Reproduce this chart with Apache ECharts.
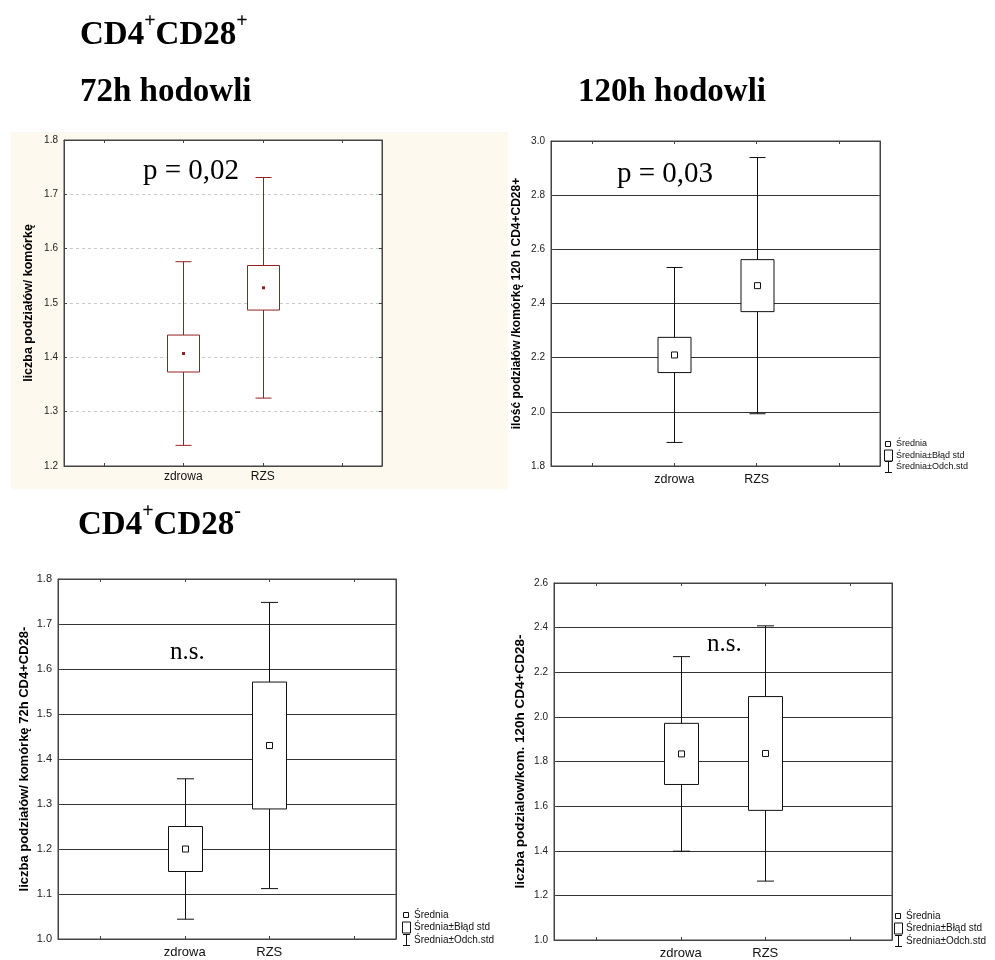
<!DOCTYPE html>
<html>
<head>
<meta charset="utf-8">
<title>CD4+CD28 – liczba podziałów</title>
<script src="https://cdn.jsdelivr.net/npm/echarts@6/dist/echarts.min.js"></script>
<style>
  html, body { margin: 0; padding: 0; background: #fff; }
  #chart { width: 995px; height: 960px; }
</style>
</head>
<body>
<div id="chart"></div>
<script>
// Groups compared in every panel, padded with empty slots on both sides
const groups = ['zdrowa', 'RZS'];
const xSlots = ['', 'zdrowa', 'RZS', ' '];

// CD4+CD28+ , 72 h culture: mean, standard error, standard deviation
const mean72pos = [1.407, 1.528];
const se72pos = [0.034, 0.041];
const sd72pos = [0.169, 0.203];

// CD4+CD28+ , 120 h culture
const mean120pos = [2.210, 2.466];
const se120pos = [0.065, 0.096];
const sd120pos = [0.323, 0.473];

// CD4+CD28- , 72 h culture
const mean72neg = [1.200, 1.430];
const se72neg = [0.050, 0.141];
const sd72neg = [0.156, 0.318];

// CD4+CD28- , 120 h culture
const mean120neg = [1.834, 1.836];
const se120neg = [0.137, 0.255];
const sd120neg = [0.436, 0.572];

// y-axis ranges and tick steps
const yMin = [1.2, 1.8, 1.0, 1.0];
const yMax = [1.8, 3.0, 1.8, 2.6];
const yStep = [0.1, 0.2, 0.1, 0.2];

const yNames = [
  'liczba podziałów/ komórkę',
  'ilość podziałów /komórkę 120 h CD4+CD28+',
  'liczba podziałów/ komórkę 72h CD4+CD28-',
  'liczba podzialow/kom. 120h CD4+CD28-'
];

const legendNames = ['Średnia', 'Średnia±Błąd std', 'Średnia±Odch.std'];

const panelStats = [
  [mean72pos, se72pos, sd72pos],
  [mean120pos, se120pos, sd120pos],
  [mean72neg, se72neg, sd72neg],
  [mean120neg, se120neg, sd120neg]
];

const grids = [
  { left: 64, top: 140, width: 318, height: 326 },
  { left: 551, top: 141, width: 329, height: 325 },
  { left: 58, top: 579, width: 338, height: 360 },
  { left: 554, top: 583, width: 338, height: 357 }
];

const panelStyle = [
  { color: '#962020', split: { color: '#c9c9c9', type: [3, 3], width: 1 }, filledMean: true, labelSize: 10, catSize: 12, nameSize: 12.5, nameGap: 29, catMargin: 5 },
  { color: '#111', split: { color: '#333', type: 'solid', width: 1 }, filledMean: false, labelSize: 10, catSize: 12.5, nameSize: 12, nameGap: 28, catMargin: 7 },
  { color: '#111', split: { color: '#333', type: 'solid', width: 1 }, filledMean: false, labelSize: 11, catSize: 13, nameSize: 13, nameGap: 27, catMargin: 7 },
  { color: '#111', split: { color: '#333', type: 'solid', width: 1 }, filledMean: false, labelSize: 10, catSize: 13, nameSize: 13.5, nameGap: 27, catMargin: 7 }
];

const labelFont = 'Liberation Sans, Arial, sans-serif';
const serifFont = 'Liberation Serif, Times New Roman, serif';

// Box = mean ± SE, whiskers = mean ± SD, small square = mean
function makeRenderer(style) {
  return function (params, api) {
    const xi = api.value(0);
    const m = api.value(1);
    const se = api.value(2);
    const sd = api.value(3);
    const band = api.size([1, 0])[0];
    const bw = Math.round(band * 0.4);
    const cw = Math.round(band * 0.2);
    const cx = Math.round(api.coord([xi, m])[0]) + 0.5;
    const cy = api.coord([xi, m])[1];
    const wTop = api.coord([xi, m + sd])[1];
    const wBot = api.coord([xi, m - sd])[1];
    const bTop = api.coord([xi, m + se])[1];
    const bBot = api.coord([xi, m - se])[1];
    const stroke = { stroke: style.color, lineWidth: 1, fill: null };
    const children = [
      { type: 'line', shape: { x1: cx, y1: wTop, x2: cx, y2: wBot }, style: stroke },
      { type: 'line', shape: { x1: cx - cw / 2, y1: wTop, x2: cx + cw / 2, y2: wTop }, style: stroke },
      { type: 'line', shape: { x1: cx - cw / 2, y1: wBot, x2: cx + cw / 2, y2: wBot }, style: stroke },
      { type: 'rect', shape: { x: cx - bw / 2, y: bTop, width: bw, height: bBot - bTop },
        style: { stroke: style.color, lineWidth: 1, fill: '#fff' } }
    ];
    if (style.filledMean) {
      children.push({ type: 'rect', shape: { x: cx - 1.5, y: cy - 1.5, width: 3, height: 3 },
        style: { fill: style.color, stroke: null } });
    } else {
      children.push({ type: 'rect', shape: { x: cx - 3, y: cy - 3, width: 6, height: 6 },
        style: { fill: '#fff', stroke: style.color, lineWidth: 1 } });
    }
    return { type: 'group', children: children };
  };
}

const gridOpt = [];
const xAxes = [];
const yAxes = [];
const series = [];

grids.forEach(function (g, i) {
  const st = panelStyle[i];
  gridOpt.push(Object.assign({ show: true, backgroundColor: '#fff', borderColor: '#444', borderWidth: 1, containLabel: false }, g));

  // bottom category axis
  xAxes.push({
    type: 'category', gridIndex: i, data: xSlots, position: 'bottom',
    axisLine: { show: true, lineStyle: { color: '#444' } },
    axisTick: { show: true, inside: true, length: 3, alignWithLabel: true, lineStyle: { color: '#444' } },
    axisLabel: { show: true, fontSize: st.catSize, fontFamily: labelFont, color: '#111', margin: st.catMargin, interval: 0 },
    splitLine: { show: false }
  });
  // mirrored top axis (ticks only)
  xAxes.push({
    type: 'category', gridIndex: i, data: xSlots, position: 'top',
    axisLine: { show: true, lineStyle: { color: '#444' } },
    axisTick: { show: true, inside: true, length: 3, alignWithLabel: true, lineStyle: { color: '#444' } },
    axisLabel: { show: false }, splitLine: { show: false }
  });

  yAxes.push({
    type: 'value', gridIndex: i, position: 'left',
    min: yMin[i], max: yMax[i], interval: yStep[i],
    name: yNames[i], nameLocation: 'middle', nameRotate: 90, nameGap: st.nameGap,
    nameTextStyle: { fontSize: st.nameSize, fontWeight: 'bold', fontFamily: labelFont, color: '#000' },
    axisLine: { show: true, lineStyle: { color: '#444' } },
    axisTick: { show: true, inside: true, length: 3, lineStyle: { color: '#444' } },
    axisLabel: { fontSize: st.labelSize, fontFamily: labelFont, color: '#222', margin: 6,
      formatter: function (v) { return v.toFixed(1); } },
    splitLine: { show: true, lineStyle: st.split }
  });
  yAxes.push({
    type: 'value', gridIndex: i, position: 'right',
    min: yMin[i], max: yMax[i], interval: yStep[i],
    axisLine: { show: true, lineStyle: { color: '#444' } },
    axisTick: { show: true, inside: true, length: 3, lineStyle: { color: '#444' } },
    axisLabel: { show: false }, splitLine: { show: false }
  });

  const stats = panelStats[i];
  const data = groups.map(function (name, k) {
    return [xSlots.indexOf(name), stats[0][k], stats[1][k], stats[2][k]];
  });
  series.push({
    type: 'custom', name: 'panel' + i,
    xAxisIndex: i * 2, yAxisIndex: i * 2,
    renderItem: makeRenderer(st),
    encode: { x: 0, y: [1] },
    data: data, z: 3, silent: true
  });
});

// Legend key drawn beside the three panels that carry it
function legendKey(x, y, gap, fontSize) {
  const tx = x + 12;
  const line = { stroke: '#111', lineWidth: 1 };
  const txt = function (t, yy) {
    return { type: 'text', x: tx, y: yy,
      style: { text: t, fontSize: fontSize, fontFamily: labelFont, fill: '#111', verticalAlign: 'middle' } };
  };
  return {
    type: 'group', x: 0, y: 0, silent: true,
    children: [
      { type: 'rect', shape: { x: x + 1.5, y: y - 2.5, width: 5, height: 5 }, style: { fill: '#fff', stroke: '#111', lineWidth: 1 } },
      { type: 'rect', shape: { x: x + 0.5, y: y + gap - 5.5, width: 8, height: 11 }, style: { fill: '#fff', stroke: '#111', lineWidth: 1 } },
      { type: 'line', shape: { x1: x + 1, y1: y + 2 * gap - 5.5, x2: x + 8, y2: y + 2 * gap - 5.5 }, style: line },
      { type: 'line', shape: { x1: x + 4.5, y1: y + 2 * gap - 5.5, x2: x + 4.5, y2: y + 2 * gap + 5.5 }, style: line },
      { type: 'line', shape: { x1: x + 1, y1: y + 2 * gap + 5.5, x2: x + 8, y2: y + 2 * gap + 5.5 }, style: line },
      txt(legendNames[0], y),
      txt(legendNames[1], y + gap),
      txt(legendNames[2], y + 2 * gap)
    ]
  };
}

const titleRich = {
  b: { fontSize: 33, fontWeight: 'bold', fontFamily: serifFont, fill: '#000', verticalAlign: 'bottom', lineHeight: 40 },
  s: { fontSize: 20, fontWeight: 'bold', fontFamily: serifFont, fill: '#000', verticalAlign: 'top', lineHeight: 40 }
};

function heading(text, x, y) {
  return { type: 'text', left: x, top: y, silent: true,
    style: { text: text, rich: titleRich, fill: '#000' } };
}

function note(text, x, y, size) {
  return { type: 'text', left: x, top: y, silent: true,
    style: { text: text, fontSize: size, fontFamily: serifFont, fill: '#000' } };
}

const graphics = [
  { type: 'rect', left: 11, top: 132, z: -100, silent: true,
    shape: { width: 497, height: 357 }, style: { fill: '#fdf9ee' } },
  heading('{b|CD4}{s|+}{b|CD28}{s|+}', 80, 12),
  heading('{b|72h hodowli}', 80, 76),
  heading('{b|120h hodowli}', 578, 76),
  heading('{b|CD4}{s|+}{b|CD28}{s|-}', 78, 502),
  note('p = 0,02', 143, 157, 29),
  note('p = 0,03', 617, 160, 29),
  note('n.s.', 170, 640, 25),
  note('n.s.', 707, 632, 25),
  legendKey(884, 444, 11.5, 9),
  legendKey(402, 915, 12.5, 10),
  legendKey(894, 916, 12.5, 10)
];

const chart = echarts.init(document.getElementById('chart'), null, { renderer: 'canvas' });
chart.setOption({
  animation: false,
  backgroundColor: '#fff',
  grid: gridOpt,
  xAxis: xAxes,
  yAxis: yAxes,
  series: series,
  graphic: graphics
});
</script>
</body>
</html>
